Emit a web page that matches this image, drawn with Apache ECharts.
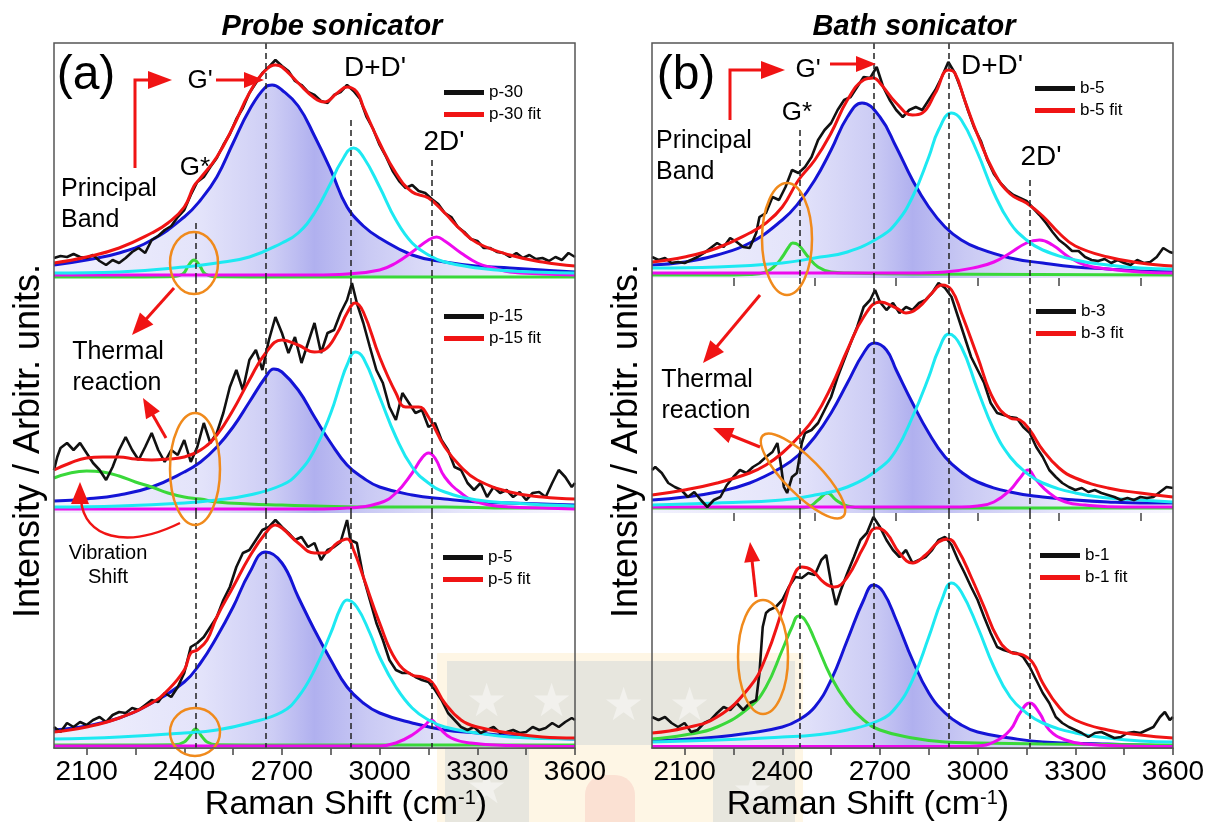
<!DOCTYPE html>
<html><head><meta charset="utf-8">
<script src="https://cdn.jsdelivr.net/npm/echarts@6/dist/echarts.min.js"></script>
<style>html,body{margin:0;padding:0;background:#fff}#c{width:1210px;height:822px}</style>
</head><body><div id="c"></div>
<script>
// ---------------- DATA (intensity in arbitrary units, per sub-panel) ----------------
const xTickValues = [2100,2250,2400,2550,2700,2850,3000,3150,3300,3450,3600];
const xLabelValues = [2100,2400,2700,3000,3300,3600];
const innerTickValuesB = [2250,2500,2750,3000,3250,3500];
const peakLinesA = [2434,2651,2910,3159];
const peakLinesB = [2453,2680,2912,3160];

// ---- (a) p-30 ----
const p30Black = [[2000,20],[2020,22],[2040,21],[2060,24],[2080,21],[2100,20],[2120,23],[2140,17],[2160,13],[2180,18],[2200,15],[2220,20],[2240,26],[2260,30],[2280,25],[2300,38],[2320,42],[2340,48],[2360,52],[2380,61],[2400,68],[2420,83],[2440,96],[2460,101],[2480,111],[2500,120],[2520,133],[2540,144],[2560,159],[2580,170],[2600,185],[2620,195],[2640,205],[2660,211],[2680,218],[2700,212],[2720,207],[2740,197],[2760,193],[2780,186],[2800,183],[2820,177],[2840,175],[2860,183],[2880,186],[2900,193],[2920,187],[2940,179],[2960,161],[2980,149],[3000,133],[3020,121],[3040,107],[3060,97],[3080,90],[3100,93],[3120,87],[3140,85],[3160,79],[3180,74],[3200,65],[3220,61],[3240,51],[3260,46],[3280,39],[3300,37],[3320,30],[3340,30],[3360,26],[3380,25],[3400,21],[3420,25],[3440,20],[3460,23],[3480,19],[3500,20],[3520,17],[3540,21],[3560,18],[3580,25],[3600,21]];
const p30Fit = [[2000,15],[2100,21],[2200,30],[2300,45],[2350,55],[2400,71],[2430,92],[2450,100],[2500,121],[2550,151],[2600,185],[2650,208],[2680,213],[2700,211],[2750,195],[2800,180],[2830,176],[2870,185],[2900,191],[2930,186],[2950,171],[3000,135],[3050,105],[3100,86],[3150,80],[3200,65],[3250,48],[3300,35],[3400,23],[3500,16],[3600,12]];
const p30Blue = [[2000,13],[2100,18],[2200,25],[2300,38],[2400,61],[2450,78],[2500,101],[2550,135],[2600,168],[2650,191],[2670,193],[2700,188],[2750,172],[2800,142],[2850,108],[2900,71],[2950,52],[3000,40],[3100,23],[3200,16],[3300,12],[3400,10],[3500,8],[3600,6]];
const p30Cyan = [[2000,5],[2200,6],[2400,11],[2500,15],[2600,21],[2700,35],[2750,45],[2800,65],[2850,95],[2880,115],[2920,130],[2950,121],[3000,91],[3050,58],[3100,35],[3150,23],[3200,16],[3300,10],[3400,7],[3600,5]];
const p30Mag = [[2000,3],[2400,3],[2800,3],[2900,4],[3000,8],[3050,15],[3100,26],[3150,38],[3175,41],[3200,37],[3250,25],[3300,15],[3350,10],[3400,6],[3500,4],[3600,3]];
const p30Green = [[2000,1],[2200,1],[2350,1.2],[2395,4],[2412,12],[2430,18],[2448,12],[2465,4],[2510,1.2],[2700,1],[3600,1]];

// ---- (a) p-15 ----
const p15Black = [[2000,43],[2010,56],[2020,65],[2040,70],[2060,63],[2080,70],[2100,60],[2120,50],[2140,43],[2160,33],[2180,46],[2200,63],[2220,76],[2240,63],[2260,53],[2280,66],[2300,80],[2320,63],[2340,51],[2360,63],[2380,58],[2400,73],[2420,51],[2440,66],[2460,90],[2480,70],[2500,80],[2520,100],[2540,126],[2560,143],[2580,123],[2600,153],[2620,163],[2640,143],[2660,173],[2680,196],[2700,180],[2720,160],[2740,176],[2760,150],[2780,170],[2800,190],[2820,160],[2840,180],[2860,183],[2880,200],[2900,213],[2915,230],[2930,210],[2950,190],[2970,166],[2990,143],[3010,130],[3030,106],[3050,93],[3070,120],[3090,110],[3110,100],[3130,103],[3150,86],[3170,90],[3190,73],[3210,63],[3230,46],[3250,43],[3270,30],[3290,23],[3310,30],[3330,16],[3350,26],[3370,20],[3390,23],[3410,16],[3430,21],[3450,13],[3470,20],[3490,21],[3510,16],[3530,30],[3550,43],[3570,36],[3590,26],[3600,30]];
const p15Fit = [[2000,43],[2050,50],[2100,55],[2150,56],[2200,56],[2250,54],[2300,53],[2350,54],[2400,56],[2450,63],[2500,78],[2550,103],[2600,133],[2650,160],[2700,173],[2750,168],[2800,161],[2830,163],[2870,180],[2900,200],[2925,210],[2950,201],[3000,156],[3050,120],[3080,106],[3120,106],[3150,96],[3200,66],[3250,46],[3300,33],[3400,21],[3500,16],[3600,14]];
const p15Blue = [[2000,12],[2100,14],[2200,18],[2300,26],[2400,41],[2450,51],[2500,66],[2550,86],[2600,111],[2650,136],[2675,144],[2700,141],[2750,123],[2800,96],[2850,70],[2900,48],[2950,35],[3000,26],[3100,18],[3200,14],[3300,11],[3400,10],[3500,9],[3600,8]];
const p15Cyan = [[2000,6],[2200,7],[2400,10],[2500,13],[2600,18],[2700,28],[2750,40],[2800,63],[2850,100],[2880,130],[2900,148],[2925,161],[2950,155],[3000,116],[3050,76],[3100,46],[3150,30],[3200,21],[3300,13],[3400,10],[3600,7]];
const p15Mag = [[2000,4],[2500,4],[2800,4],[2900,5],[3000,10],[3050,20],[3100,40],[3130,55],[3150,60],[3170,55],[3200,36],[3250,20],[3300,11],[3400,6],[3500,5],[3600,4]];
const p15Green = [[2000,35],[2050,40],[2100,42],[2150,41],[2200,37],[2250,31],[2300,26],[2350,20],[2400,16],[2450,14],[2500,11],[2600,9],[2700,8],[2800,7],[3000,6],[3200,6],[3400,5],[3600,5]];

// ---- (a) p-5 ----
const p5Black = [[2000,21],[2020,16],[2040,25],[2060,21],[2080,26],[2100,23],[2120,28],[2140,31],[2160,26],[2180,33],[2200,36],[2220,35],[2240,40],[2260,38],[2280,43],[2300,48],[2320,46],[2340,55],[2360,51],[2380,61],[2400,75],[2420,101],[2440,105],[2460,111],[2480,121],[2500,131],[2520,148],[2540,161],[2560,181],[2580,195],[2600,198],[2620,208],[2640,218],[2660,221],[2680,228],[2700,221],[2720,215],[2740,208],[2760,211],[2780,201],[2800,205],[2820,188],[2840,198],[2860,201],[2880,206],[2900,228],[2910,208],[2930,205],[2950,171],[2970,148],[2990,125],[3010,108],[3030,88],[3050,78],[3070,75],[3090,75],[3110,71],[3130,68],[3150,66],[3170,58],[3190,48],[3210,35],[3230,28],[3250,21],[3270,18],[3290,21],[3310,15],[3330,18],[3350,21],[3370,15],[3390,16],[3410,18],[3430,15],[3450,16],[3470,21],[3490,18],[3510,20],[3530,25],[3550,21],[3570,26],[3590,30],[3600,28]];
const p5Fit = [[2000,16],[2100,21],[2200,30],[2300,45],[2350,58],[2400,78],[2420,95],[2440,98],[2470,108],[2500,131],[2550,161],[2600,191],[2650,215],[2680,223],[2700,220],[2750,205],[2800,195],[2830,195],[2870,205],[2900,209],[2920,198],[2950,171],[3000,125],[3050,88],[3100,73],[3130,71],[3160,66],[3200,45],[3250,28],[3300,21],[3400,15],[3500,11],[3600,10]];
const p5Blue = [[2000,18],[2100,22],[2200,30],[2300,45],[2400,66],[2450,85],[2500,111],[2550,141],[2600,175],[2650,196],[2700,185],[2750,151],[2800,118],[2850,88],[2900,61],[2950,45],[3000,35],[3100,25],[3200,18],[3300,15],[3400,12],[3500,10],[3600,9]];
const p5Cyan = [[2000,9],[2200,11],[2400,15],[2500,18],[2600,25],[2700,36],[2750,51],[2800,78],[2850,115],[2880,140],[2900,148],[2930,141],[2970,115],[3000,91],[3050,61],[3100,40],[3150,28],[3200,21],[3300,15],[3400,11],[3600,9]];
const p5Mag = [[2000,2],[2600,2],[3000,2],[3050,5],[3100,13],[3140,23],[3158,28],[3180,21],[3220,10],[3280,5],[3400,2.5],[3600,1.5]];
const p5Green = [[2000,3],[2200,3],[2370,3.2],[2400,6],[2417,12],[2435,19],[2453,12],[2470,6],[2500,3.2],[2700,3],[3600,3]];

// ---- (b) b-5 ----
const b5Black = [[2000,21],[2020,18],[2040,20],[2060,15],[2080,16],[2100,15],[2120,18],[2140,21],[2160,25],[2180,30],[2200,35],[2220,31],[2240,40],[2260,36],[2280,31],[2300,30],[2320,45],[2330,61],[2350,65],[2370,81],[2390,78],[2410,91],[2430,108],[2450,105],[2470,111],[2490,121],[2510,138],[2530,148],[2550,155],[2570,168],[2590,178],[2610,181],[2630,191],[2650,201],[2670,200],[2690,211],[2710,191],[2730,178],[2750,168],[2770,161],[2790,168],[2810,171],[2830,168],[2850,178],[2870,188],[2890,201],[2910,216],[2930,205],[2950,188],[2970,168],[2990,150],[3010,137],[3030,118],[3050,104],[3070,95],[3090,88],[3110,83],[3130,80],[3150,77],[3170,70],[3190,63],[3210,55],[3230,46],[3250,38],[3270,33],[3290,27],[3310,27],[3330,21],[3350,18],[3370,17],[3390,19],[3410,15],[3430,18],[3450,15],[3470,13],[3490,18],[3510,15],[3530,16],[3550,21],[3570,30],[3590,26],[3600,25]];
const b5Fit = [[2000,16],[2100,21],[2200,30],[2300,45],[2350,55],[2400,71],[2450,98],[2500,118],[2550,145],[2600,178],[2650,198],[2680,200],[2700,195],[2750,175],[2800,163],[2830,165],[2870,185],[2910,208],[2930,205],[2960,178],[3000,143],[3050,106],[3100,84],[3150,75],[3200,62],[3250,45],[3300,32],[3400,21],[3500,15],[3600,12]];
const b5Blue = [[2000,13],[2100,16],[2200,23],[2300,35],[2400,58],[2450,75],[2500,98],[2550,128],[2600,161],[2645,175],[2700,161],[2750,131],[2800,98],[2850,71],[2900,51],[2950,38],[3000,30],[3100,20],[3200,15],[3300,11],[3400,9],[3500,7],[3600,6]];
const b5Cyan = [[2000,10],[2200,11],[2400,15],[2500,20],[2600,26],[2700,41],[2750,55],[2800,81],[2850,121],[2880,148],[2920,165],[2950,158],[3000,125],[3050,85],[3100,55],[3150,38],[3200,28],[3300,18],[3400,13],[3500,10],[3600,9]];
const b5Mag = [[2000,5],[2400,5],[2800,5],[2900,6],[3000,11],[3050,16],[3100,25],[3150,35],[3190,38],[3230,33],[3280,21],[3330,13],[3400,9],[3500,6],[3600,5]];
const b5Green = [[2000,3],[2200,3],[2300,3.5],[2350,6],[2380,13],[2400,21],[2420,31],[2432,35],[2450,33],[2480,21],[2510,11],[2550,6],[2600,5],[2800,4],[3600,3]];

// ---- (b) b-3 ----
const b3Black = [[2000,43],[2010,46],[2030,40],[2050,30],[2070,26],[2090,23],[2110,16],[2130,21],[2150,13],[2170,6],[2190,13],[2210,16],[2230,28],[2250,36],[2270,43],[2290,40],[2310,46],[2330,50],[2350,56],[2370,61],[2385,70],[2395,50],[2405,26],[2415,20],[2430,36],[2445,40],[2460,70],[2470,80],[2490,83],[2510,90],[2530,103],[2550,116],[2570,136],[2590,153],[2610,170],[2630,186],[2650,206],[2670,213],[2685,223],[2700,211],[2720,203],[2740,210],[2760,200],[2780,206],[2800,203],[2820,210],[2840,213],[2860,220],[2880,230],[2900,225],[2920,216],[2940,196],[2960,176],[2980,156],[3000,143],[3020,130],[3040,110],[3060,100],[3080,98],[3100,96],[3120,95],[3140,86],[3160,80],[3180,66],[3200,56],[3220,43],[3240,36],[3260,30],[3280,26],[3300,23],[3320,25],[3340,21],[3360,23],[3380,20],[3400,18],[3420,16],[3440,13],[3460,15],[3480,13],[3500,16],[3520,15],[3540,16],[3560,21],[3580,26],[3600,25]];
const b3Fit = [[2000,18],[2100,23],[2200,30],[2300,40],[2350,48],[2400,60],[2450,76],[2500,96],[2550,126],[2600,163],[2650,196],[2700,211],[2750,205],[2780,200],[2820,206],[2860,220],[2890,228],[2920,223],[2950,200],[3000,156],[3050,113],[3100,95],[3130,93],[3160,83],[3200,63],[3250,45],[3300,35],[3400,25],[3500,20],[3600,16]];
const b3Blue = [[2000,13],[2100,16],[2200,21],[2300,30],[2400,46],[2450,58],[2500,76],[2550,100],[2600,130],[2650,160],[2683,170],[2720,163],[2750,143],[2800,110],[2850,80],[2900,56],[2950,41],[3000,31],[3100,21],[3200,16],[3300,13],[3400,11],[3500,10],[3600,10]];
const b3Cyan = [[2000,8],[2200,10],[2400,13],[2500,18],[2600,26],[2700,45],[2750,63],[2800,96],[2850,136],[2880,163],[2912,179],[2950,166],[3000,123],[3050,83],[3100,56],[3150,40],[3200,30],[3300,20],[3400,15],[3500,13],[3600,11]];
const b3Mag = [[2000,6],[2500,6],[2950,6],[3000,7],[3050,11],[3100,23],[3130,35],[3155,43],[3180,33],[3220,20],[3270,11],[3330,8],[3450,6],[3600,6]];
const b3Green = [[2000,5],[2300,5],[2450,5],[2480,6],[2510,13],[2539,20],[2565,13],[2600,7],[2650,5],[2900,5],[3600,5]];

// ---- (b) b-1 ----
const b1Black = [[2000,31],[2020,28],[2040,31],[2060,25],[2080,21],[2100,25],[2120,16],[2140,18],[2160,25],[2180,28],[2200,35],[2220,41],[2240,38],[2260,45],[2280,38],[2300,45],[2320,48],[2330,75],[2340,121],[2350,135],[2360,138],[2380,141],[2400,148],[2420,161],[2440,171],[2460,170],[2480,175],[2500,173],[2520,188],[2535,193],[2550,165],[2565,143],[2580,158],[2600,175],[2620,191],[2640,208],[2660,215],[2680,231],[2700,221],[2720,208],[2740,198],[2760,191],[2780,198],[2800,185],[2820,188],[2840,191],[2860,198],[2880,208],[2900,211],[2920,203],[2940,188],[2960,175],[2980,161],[3000,148],[3020,131],[3040,115],[3060,101],[3080,98],[3100,96],[3120,95],[3140,91],[3160,81],[3180,68],[3200,55],[3220,45],[3240,31],[3260,25],[3280,21],[3300,18],[3320,15],[3340,11],[3360,15],[3380,16],[3400,13],[3420,10],[3440,11],[3460,15],[3480,16],[3500,15],[3520,18],[3540,21],[3560,31],[3575,36],[3590,28],[3600,31]];
const b1Fit = [[2000,15],[2100,20],[2200,31],[2300,61],[2350,91],[2400,138],[2430,168],[2460,181],[2490,178],[2530,165],[2560,161],[2600,171],[2650,201],[2690,220],[2720,215],[2760,195],[2800,185],[2840,193],[2880,206],[2910,209],[2940,198],[2980,171],[3020,141],[3060,111],[3100,96],[3140,93],[3170,85],[3200,65],[3250,41],[3300,28],[3400,18],[3500,13],[3600,10]];
const b1Blue = [[2000,7],[2200,11],[2300,15],[2400,21],[2450,28],[2500,41],[2550,68],[2600,108],[2650,148],[2680,163],[2710,156],[2750,128],[2800,88],[2850,55],[2900,35],[2950,23],[3000,16],[3100,10],[3200,6],[3400,4],[3600,2]];
const b1Cyan = [[2000,6],[2200,8],[2400,11],[2500,13],[2600,18],[2700,28],[2750,41],[2800,68],[2850,111],[2890,148],[2920,165],[2950,156],[3000,121],[3050,81],[3100,51],[3150,35],[3200,25],[3300,15],[3400,10],[3500,7],[3600,6]];
const b1Mag = [[2000,1.5],[2500,1.5],[2950,1.5],[3000,2],[3050,6],[3100,18],[3130,35],[3160,45],[3190,35],[3220,18],[3270,8],[3330,4],[3450,2],[3600,1.5]];
const b1Green = [[2000,9],[2100,13],[2200,21],[2300,41],[2350,61],[2400,98],[2430,121],[2450,132],[2470,128],[2500,108],[2550,71],[2600,45],[2650,28],[2700,18],[2800,10],[2900,6],[3000,5],[3200,4],[3600,3]];

const sampleNames = ['p-30','p-15','p-5','b-5','b-3','b-1'];

// ---------------- LAYOUT / STYLE ----------------
const FONT = "'Liberation Sans', Arial, Helvetica, sans-serif";
const PANEL_LEFT = [54, 652], PANEL_W = 521, TOP0 = 43, SUB_H = 235;
const C = {blue:'#1414d6', cyan:'#1de9f2', mag:'#ee0aee', green:'#3ad83a', red:'#f01414', black:'#111111', orange:'#f08a1c', arrow:'#f01414'};
const subs = [
  {black:p30Black, fit:p30Fit, blue:p30Blue, cyan:p30Cyan, mag:p30Mag, green:p30Green},
  {black:p15Black, fit:p15Fit, blue:p15Blue, cyan:p15Cyan, mag:p15Mag, green:p15Green},
  {black:p5Black,  fit:p5Fit,  blue:p5Blue,  cyan:p5Cyan,  mag:p5Mag,  green:p5Green},
  {black:b5Black,  fit:b5Fit,  blue:b5Blue,  cyan:b5Cyan,  mag:b5Mag,  green:b5Green},
  {black:b3Black,  fit:b3Fit,  blue:b3Blue,  cyan:b3Cyan,  mag:b3Mag,  green:b3Green},
  {black:b1Black,  fit:b1Fit,  blue:b1Blue,  cyan:b1Cyan,  mag:b1Mag,  green:b1Green}
];
// how high (in sub-panel units) each dashed line rises inside the top sub-panel
const dashTopA = [55, 235, 158, 118];
const dashTopB = [148, 235, 235, 98];
const legendPos = [[444,84],[444,308],[443,549],[1035,80],[1036,303],[1040,547]];

const grids = [], xAxes = [], yAxes = [], series = [], legends = [];
const blueFill = () => new echarts.graphic.LinearGradient(0,0,1,0,[
  {offset:0, color:'rgba(240,240,253,0.95)'},
  {offset:0.28, color:'rgba(226,226,250,0.95)'},
  {offset:0.42, color:'rgba(202,202,244,0.95)'},
  {offset:0.5, color:'rgba(172,172,238,0.95)'},
  {offset:0.6, color:'rgba(198,198,243,0.95)'},
  {offset:0.78, color:'rgba(228,228,250,0.95)'},
  {offset:1, color:'rgba(246,246,254,0.95)'}
]);

subs.forEach((s, k) => {
  const p = k < 3 ? 0 : 1, row = k % 3;
  grids.push({left: PANEL_LEFT[p], top: TOP0 + row*SUB_H, width: PANEL_W, height: SUB_H});
  const bottom = row === 2;
  const xa = {gridIndex:k, type:'value', min:2000, max:3600, splitLine:{show:false},
    axisLine:{show:bottom, onZero:false, lineStyle:{color:'#555', width:1.5}},
    axisTick:{show:bottom || p===1, inside:false, length: bottom?7:8, lineStyle:{color:'#444', width:1.5},
      customValues: bottom ? xTickValues : innerTickValuesB},
    axisLabel:{show:bottom, customValues:xLabelValues, margin:10, fontSize:28, color:'#000', fontFamily:FONT,
      formatter: v => String(v)}
  };
  xAxes.push(xa);
  yAxes.push({gridIndex:k, type:'value', min:0, max:SUB_H, show:false, splitLine:{show:false}});
  const peaks = p===0 ? peakLinesA : peakLinesB;
  const tops = p===0 ? dashTopA : dashTopB;
  const base = {type:'line', xAxisIndex:k, yAxisIndex:k, symbol:'none', smooth:0.45, silent:true, animation:false};
  series.push(Object.assign({}, base, {data:s.blue, lineStyle:{color:C.blue, width:3}, areaStyle:{color:blueFill(), origin:'start', opacity:1}}));
  series.push(Object.assign({}, base, {data:s.green, lineStyle:{color:C.green, width:3},
    markLine:{silent:true, symbol:['none','none'], animation:false, label:{show:false},
      lineStyle:{type:[6,4], color:'#222', width:1.5},
      data: peaks.map((x,i) => [{coord:[x, row===0 ? tops[i] : SUB_H]}, {coord:[x, 0]}])}}));
  series.push(Object.assign({}, base, {data:s.mag, lineStyle:{color:C.mag, width:3}}));
  series.push(Object.assign({}, base, {data:s.cyan, lineStyle:{color:C.cyan, width:3}}));
  series.push(Object.assign({}, base, {name:sampleNames[k], data:s.black, smooth:false, color:C.black, lineStyle:{color:C.black, width:2.6}}));
  series.push(Object.assign({}, base, {name:sampleNames[k]+' fit', data:s.fit, color:C.red, lineStyle:{color:C.red, width:3}}));
  legends.push({data:[sampleNames[k], sampleNames[k]+' fit'], orient:'vertical', left:legendPos[k][0], top:legendPos[k][1],
    icon:'rect', itemWidth:40, itemHeight:5, itemGap:5, padding:0, selectedMode:false,
    textStyle:{fontSize:17, color:'#000', fontFamily:FONT}});
});

// ---------------- ANNOTATIONS ----------------
function txt(x, y, text, size, opts) {
  return {type:'text', x, y, z:50, style:{text, font: (opts&&opts.font) || (size+'px '+FONT), fill:'#000',
    align:(opts&&opts.align)||'center', verticalAlign:'middle'}};
}
function head(tx, ty, fx, fy, len, hw) {
  const dx = tx-fx, dy = ty-fy, L = Math.hypot(dx,dy), ux = dx/L, uy = dy/L;
  const bx = tx-ux*len, by = ty-uy*len;
  return {type:'polygon', z:60, shape:{points:[[tx,ty],[bx-uy*hw, by+ux*hw],[bx+uy*hw, by-ux*hw]]}, style:{fill:C.arrow}};
}
function arrow(fx, fy, tx, ty, len, hw) {
  len = len || 20; hw = hw || 8;
  const dx = tx-fx, dy = ty-fy, L = Math.hypot(dx,dy);
  const bx = tx-dx/L*(len-2), by = ty-dy/L*(len-2);
  return [{type:'line', z:60, shape:{x1:fx,y1:fy,x2:bx,y2:by}, style:{stroke:C.arrow, lineWidth:3}}, head(tx,ty,fx,fy,len,hw)];
}
function ell(cx, cy, rx, ry, rot) {
  return {type:'ellipse', z:55, x:cx, y:cy, rotation:rot||0, shape:{cx:0, cy:0, rx, ry}, style:{fill:null, stroke:C.orange, lineWidth:2.5}};
}
const g = [];
// watermark (faint logo)
g.push({type:'rect', z:-1, shape:{x:437,y:653,width:366,height:169}, style:{fill:'rgba(252,226,170,0.3)'}});
g.push({type:'rect', z:-1, shape:{x:447,y:661,width:348,height:84}, style:{fill:'rgba(160,178,200,0.24)'}});
g.push({type:'rect', z:-1, shape:{x:445,y:745,width:84,height:77}, style:{fill:'rgba(160,178,200,0.24)'}});
g.push({type:'rect', z:-1, shape:{x:713,y:745,width:82,height:77}, style:{fill:'rgba(160,178,200,0.24)'}});
[[486,703],[551,703],[623,707],[689,707],[752,793],[486,790]].forEach(([x,y]) => g.push({type:'text', z:-1, x, y, style:{text:'★', font:'46px '+FONT, fill:'rgba(255,255,255,0.45)', align:'center', verticalAlign:'middle'}}));
g.push({type:'rect', z:-1, shape:{x:585,y:775,width:50,height:47, r:[20,20,0,0]}, style:{fill:'rgba(240,150,150,0.22)'}});

// frames
PANEL_LEFT.forEach(l => g.push({type:'rect', z:70, shape:{x:l, y:TOP0, width:PANEL_W, height:3*SUB_H}, style:{fill:null, stroke:'#555', lineWidth:1.5}}));
// titles & axis names
g.push(txt(332, 27, 'Probe sonicator', 29, {font:'italic bold 29px '+FONT}));
g.push(txt(914, 27, 'Bath sonicator', 29, {font:'italic bold 29px '+FONT}));
[[29,441],[627,441]].forEach(([x,y]) => g.push({type:'text', z:50, x, y, rotation:Math.PI/2,
  style:{text:'Intensity / Arbitr. units.', font:'36px '+FONT, fill:'#000', align:'center', verticalAlign:'middle'}}));
[[346,805],[868,805]].forEach(([x,y]) => g.push({type:'text', z:50, x, y,
  style:{text:'{a|Raman Shift (cm}{s|-1}{a|)}', fill:'#000', align:'center', verticalAlign:'middle',
    rich:{a:{fontSize:34, fontFamily:FONT, fill:'#000'}, s:{fontSize:20, fontFamily:FONT, fill:'#000', verticalAlign:'top'}}}}));
// panel (a) annotations
g.push(txt(86, 76, '(a)', 48));
g.push(txt(200, 81, "G'", 26));
g.push(txt(375, 68, "D+D'", 28));
g.push(txt(444, 142, "2D'", 28));
g.push(txt(195, 168, 'G*', 26));
g.push(txt(61, 189, 'Principal', 25, {align:'left'}));
g.push(txt(61, 220, 'Band', 25, {align:'left'}));
g.push(txt(118, 352, 'Thermal', 25));
g.push(txt(117, 383, 'reaction', 25));
g.push(txt(108, 553, 'Vibration', 20));
g.push(txt(108, 577, 'Shift', 20));
g.push({type:'polyline', z:60, shape:{points:[[135,168],[135,80],[152,80]]}, style:{stroke:C.arrow, lineWidth:3, fill:null}});
g.push(head(172,80,135,80,24,9));
g.push(...arrow(216,80,264,80,20,8));
g.push(...arrow(174,288,132,335,22,9));
g.push(...arrow(166,438,143,398,20,8));
g.push({type:'bezierCurve', z:60, shape:{x1:180,y1:523,cpx1:125,cpy1:550,cpx2:84,cpy2:537,x2:81,y2:500}, style:{stroke:C.arrow, lineWidth:2.5, fill:null}});
g.push(head(80,482,80,505,22,9));
g.push(ell(194,263,24,31));
g.push(ell(195,469,25,56));
g.push(ell(195,732,25,24));
// panel (b) annotations
g.push(txt(686, 76, '(b)', 48));
g.push(txt(808, 70, "G'", 26));
g.push(txt(992, 66, "D+D'", 28));
g.push(txt(1041, 157, "2D'", 28));
g.push(txt(797, 113, 'G*', 26));
g.push(txt(656, 141, 'Principal', 25, {align:'left'}));
g.push(txt(656, 172, 'Band', 25, {align:'left'}));
g.push(txt(707, 380, 'Thermal', 25));
g.push(txt(706, 411, 'reaction', 25));
g.push({type:'polyline', z:60, shape:{points:[[730,120],[730,70],[764,70]]}, style:{stroke:C.arrow, lineWidth:3, fill:null}});
g.push(head(785,70,730,70,24,9));
g.push(...arrow(830,64,876,64,20,8));
g.push(...arrow(760,295,703,363,22,9));
g.push(...arrow(760,447,713,428,20,8));
g.push(...arrow(756,597,750,542,20,8));
g.push(ell(787,239,25,56));
g.push(ell(803,476,57,18,-0.79));
g.push(ell(763,657,25,57));

const chart = echarts.init(document.getElementById('c'));
chart.setOption({
  animation:false, backgroundColor:'#fff',
  grid:grids, xAxis:xAxes, yAxis:yAxes, series, legend:legends, graphic:{elements:g}
});
</script></body></html>
